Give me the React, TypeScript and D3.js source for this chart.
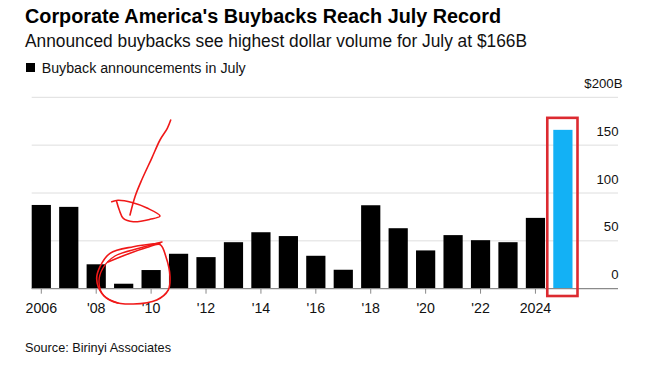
import React from "react";
import * as d3 from "d3";

const years = [2006, 2007, 2008, 2009, 2010, 2011, 2012, 2013, 2014, 2015, 2016, 2017, 2018, 2019, 2020, 2021, 2022, 2023, 2024, 2025];
const buybacks = [87.5, 85.5, 25.5, 5.2, 19.5, 36.5, 33, 48.6, 59, 55, 34.4, 19.8, 87.2, 63.2, 40, 56, 50.7, 48.6, 74, 166];
const yTicks = [0, 50, 100, 150, 200];
const xTickYears = [2006, 2008, 2010, 2012, 2014, 2016, 2018, 2020, 2022, 2024];

// hand-drawn red annotation strokes (screen pixels)
const arrowStroke: [number, number][] = [[170.7, 120], [167.3, 128.3], [160, 140], [151.7, 158.3], [141.7, 180], [135, 196.7], [130, 215]];
const loopStroke: [number, number][] = [[111.7, 201.7], [118, 200.3], [132, 202.5], [147, 208], [160, 216], [150, 219.3], [133.3, 221.7], [123.3, 218.3], [119.3, 210], [116.7, 201.7]];
const circleStroke: [number, number][] = [[160, 243.3], [133.3, 246.7], [110, 253.3], [100, 266.7], [96.7, 279], [101.7, 293.3], [113.3, 301.7], [133.3, 304], [156.7, 300], [168.3, 290], [170, 276.7], [166, 257], [160, 244.5], [146.7, 247.5], [124, 255.5], [108, 262]];
const circleStroke2: [number, number][] = [[162, 242], [140, 248], [115, 256], [103, 268], [99, 282], [104, 296], [118, 303]];

const W = 654;
const H = 368;
const FONT = "'Liberation Sans', Arial, Helvetica, sans-serif";

export default function App() {
  const x = d3.scaleBand<number>().domain(years).range([31.7, 572.5]).paddingInner(0.3).paddingOuter(0);
  const y = d3.scaleLinear().domain([0, 200]).range([288.7, 97.3]);
  const gridX0 = 31.7;
  const gridX1 = 618;
  const line = d3.line().curve(d3.curveCatmullRom);
  const fmtYear = (yr: number) => (yr === 2006 || yr === 2024 ? String(yr) : "'" + String(yr).slice(2));
  const last = years[years.length - 1];
  const lastX = x(last) as number;
  const lastTop = y(buybacks[buybacks.length - 1]);

  return (
    <svg width={W} height={H} style={{ position: "absolute", left: 0, top: 0, background: "#fff" }} fontFamily={FONT}>
      <rect x={0} y={0} width={W} height={H} fill="#fff" />
      <text x={25} y={23.3} fontSize={19.5} fontWeight="bold" fill="#000" textLength={476} lengthAdjust="spacingAndGlyphs">
        Corporate America's Buybacks Reach July Record
      </text>
      <text x={25} y={47} fontSize={17.5} fill="#111" textLength={502} lengthAdjust="spacingAndGlyphs">
        Announced buybacks see highest dollar volume for July at $166B
      </text>
      <rect x={26} y={63} width={9} height={9} fill="#000" />
      <text x={41.7} y={72.6} fontSize={13.8} fill="#111" textLength={204} lengthAdjust="spacingAndGlyphs">
        Buyback announcements in July
      </text>

      {yTicks.map((t) => (
        <g key={t}>
          {t !== 0 && <line x1={gridX0} x2={gridX1} y1={y(t)} y2={y(t)} stroke="#dedede" strokeWidth={1} />}
          <text x={t === 200 ? 622.5 : 618.5} y={y(t) - 9.5} fontSize={13.2} textAnchor="end" fill="#111">
            {t === 200 ? "$200B" : String(t)}
          </text>
        </g>
      ))}

      {years.map((yr, i) => (
        <rect
          key={yr}
          x={x(yr)}
          y={y(buybacks[i])}
          width={x.bandwidth()}
          height={y(0) - y(buybacks[i])}
          fill={yr === 2025 ? "#13b1f5" : "#000"}
        />
      ))}

      <line x1={gridX0} x2={gridX1} y1={y(0)} y2={y(0)} stroke="#8a8a8a" strokeWidth={1.2} />
      {xTickYears.map((yr) => {
        const cx = (x(yr) as number) + x.bandwidth() / 2;
        return (
          <g key={yr}>
            <line x1={cx} x2={cx} y1={y(0)} y2={y(0) + 5} stroke="#8a8a8a" strokeWidth={1} />
            <text x={cx} y={312.6} fontSize={14.2} textAnchor="middle" fill="#111">
              {fmtYear(yr)}
            </text>
          </g>
        );
      })}

      <text x={25} y={352.3} fontSize={13.3} fill="#111" textLength={146} lengthAdjust="spacingAndGlyphs">
        Source: Birinyi Associates
      </text>

      <rect
        x={lastX - 6}
        y={lastTop - 12}
        width={x.bandwidth() + 11}
        height={y(0) + 7.3 - (lastTop - 12)}
        fill="none"
        stroke="#dc2a30"
        strokeWidth={2.6}
      />
      <path d={line(arrowStroke) || ""} fill="none" stroke="#f01818" strokeWidth={1.6} strokeLinecap="round" />
      <path d={line(loopStroke) || ""} fill="none" stroke="#f01818" strokeWidth={1.6} strokeLinecap="round" />
      <path d={line(circleStroke) || ""} fill="none" stroke="#f01818" strokeWidth={1.6} strokeLinecap="round" />
      <path d={line(circleStroke2) || ""} fill="none" stroke="#f01818" strokeWidth={1.4} strokeLinecap="round" />
    </svg>
  );
}
